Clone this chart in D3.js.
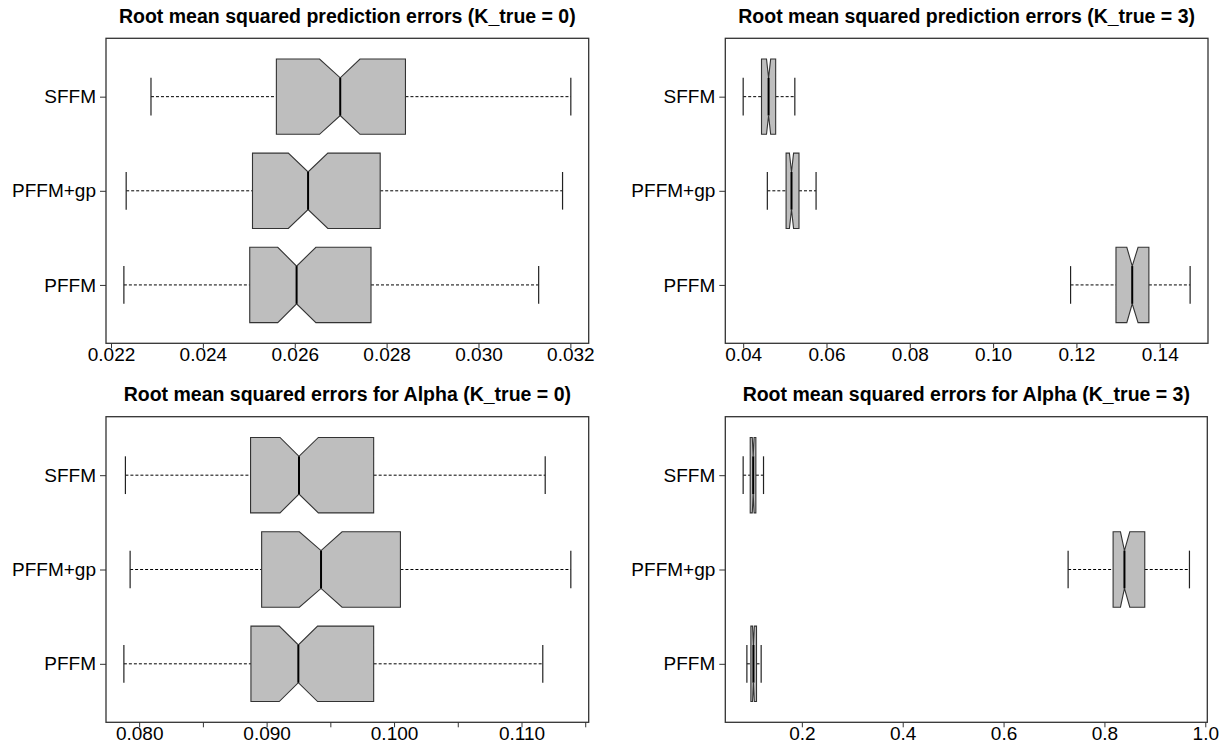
<!DOCTYPE html>
<html>
<head>
<meta charset="utf-8">
<script src="https://cdn.jsdelivr.net/npm/d3@7"></script>
<style>
  body { margin: 0; background: #fff; }
  svg { display: block; font-family: "Liberation Sans", Arial, sans-serif; }
</style>
</head>
<body>
<svg id="chart" width="1229" height="744"></svg>
<script>
// methods, top row first
const methods = ["SFFM", "PFFM+gp", "PFFM"];

// each row: [whiskerLow, q1, notchLow, median, notchHigh, q3, whiskerHigh]
const predK0 = [
  [0.02287, 0.02560, 0.02654, 0.02699, 0.02742, 0.02841, 0.03201],
  [0.02233, 0.02508, 0.02586, 0.02629, 0.02672, 0.02786, 0.03183],
  [0.02228, 0.02502, 0.02563, 0.02604, 0.02646, 0.02766, 0.03131]
];
const predK3 = [
  [0.0400, 0.0444, 0.0456, 0.0461, 0.0466, 0.0478, 0.0524],
  [0.0458, 0.0503, 0.0511, 0.0516, 0.0521, 0.0534, 0.0575],
  [0.1186, 0.1295, 0.1321, 0.1334, 0.1348, 0.1374, 0.1473]
];
const alphaK0 = [
  [0.07892, 0.08874, 0.09105, 0.09254, 0.09406, 0.09840, 0.11186],
  [0.07929, 0.08961, 0.09257, 0.09427, 0.09592, 0.10050, 0.11387],
  [0.07880, 0.08877, 0.09099, 0.09249, 0.09400, 0.09840, 0.11167]
];
const alphaK3 = [
  [0.0836, 0.0976, 0.1017, 0.1035, 0.1053, 0.1088, 0.1240],
  [0.7280, 0.8172, 0.8318, 0.8397, 0.8503, 0.8800, 0.9686],
  [0.0910, 0.0989, 0.1022, 0.1040, 0.1058, 0.1101, 0.1193]
];

const predK0Ticks = [0.022, 0.024, 0.026, 0.028, 0.030, 0.032];
const predK0Labels = ["0.022", "0.024", "0.026", "0.028", "0.030", "0.032"];
const predK3Ticks = [0.04, 0.06, 0.08, 0.10, 0.12, 0.14];
const predK3Labels = ["0.04", "0.06", "0.08", "0.10", "0.12", "0.14"];
const alphaK0Ticks = [0.080, 0.085, 0.090, 0.095, 0.100, 0.105, 0.110, 0.115];
const alphaK0Labels = ["0.080", "", "0.090", "", "0.100", "", "0.110", ""];
const alphaK3Ticks = [0.2, 0.4, 0.6, 0.8, 1.0];
const alphaK3Labels = ["0.2", "0.4", "0.6", "0.8", "1.0"];

const titles = [
  "Root mean squared prediction errors (K_true = 0)",
  "Root mean squared prediction errors (K_true = 3)",
  "Root mean squared errors for Alpha (K_true = 0)",
  "Root mean squared errors for Alpha (K_true = 3)"
];

const svg = d3.select("#chart");

const panels = [
  { stats: predK0, ticks: predK0Ticks, labels: predK0Labels, title: titles[0], x0: 106, x1: 588.7, y0: 38.3, y1: 343.3 },
  { stats: predK3, ticks: predK3Ticks, labels: predK3Labels, title: titles[1], x0: 725.3, x1: 1208, y0: 38.3, y1: 343.3 },
  { stats: alphaK0, ticks: alphaK0Ticks, labels: alphaK0Labels, title: titles[2], x0: 106, x1: 588.7, y0: 416.7, y1: 722.3 },
  { stats: alphaK3, ticks: alphaK3Ticks, labels: alphaK3Labels, title: titles[3], x0: 725.3, x1: 1207.3, y0: 416.7, y1: 722.3 }
];

panels.forEach(p => drawPanel(p));

function drawPanel(p) {
  const g = svg.append("g");

  // R style range: data range plus 4% each side
  const lo = d3.min(p.stats, d => d[0]);
  const hi = d3.max(p.stats, d => d[6]);
  const pad = (hi - lo) * 0.04;
  const x = d3.scaleLinear().domain([lo - pad, hi + pad]).range([p.x0, p.x1]);

  // rows at 1..n, limits 0.5..n+0.5 extended by 4%
  const n = methods.length;
  const ypad = n * 0.04;
  const y = d3.scaleLinear().domain([0.5 - ypad, n + 0.5 + ypad]).range([p.y1, p.y0]);
  const pos = i => n - i;

  const boxH = 0.4, capH = 0.2;

  const rows = g.selectAll("g.row")
    .data(p.stats)
    .enter()
    .append("g")
    .attr("class", "row");

  // whiskers
  rows.append("line")
    .attr("x1", d => x(d[0])).attr("x2", d => x(d[1]))
    .attr("y1", (d, i) => y(pos(i))).attr("y2", (d, i) => y(pos(i)))
    .attr("stroke", "#000").attr("stroke-width", 1).attr("stroke-dasharray", "3,2");
  rows.append("line")
    .attr("x1", d => x(d[5])).attr("x2", d => x(d[6]))
    .attr("y1", (d, i) => y(pos(i))).attr("y2", (d, i) => y(pos(i)))
    .attr("stroke", "#000").attr("stroke-width", 1).attr("stroke-dasharray", "3,2");

  // caps
  [0, 6].forEach(k => {
    rows.append("line")
      .attr("x1", d => x(d[k])).attr("x2", d => x(d[k]))
      .attr("y1", (d, i) => y(pos(i) + capH)).attr("y2", (d, i) => y(pos(i) - capH))
      .attr("stroke", "#222").attr("stroke-width", 1.2);
  });

  // notched box
  rows.append("path")
    .attr("d", (d, i) => {
      const c = pos(i);
      const pts = [
        [d[1], c + boxH], [d[2], c + boxH], [d[3], c + boxH / 2], [d[4], c + boxH], [d[5], c + boxH],
        [d[5], c - boxH], [d[4], c - boxH], [d[3], c - boxH / 2], [d[2], c - boxH], [d[1], c - boxH]
      ];
      return "M" + pts.map(q => x(q[0]) + "," + y(q[1])).join("L") + "Z";
    })
    .attr("fill", "#bebebe")
    .attr("stroke", "#333")
    .attr("stroke-width", 1.1);

  // median
  rows.append("line")
    .attr("x1", d => x(d[3])).attr("x2", d => x(d[3]))
    .attr("y1", (d, i) => y(pos(i) + boxH / 2)).attr("y2", (d, i) => y(pos(i) - boxH / 2))
    .attr("stroke", "#000").attr("stroke-width", 2);

  // frame
  g.append("rect")
    .attr("x", p.x0).attr("y", p.y0)
    .attr("width", p.x1 - p.x0).attr("height", p.y1 - p.y0)
    .attr("fill", "none").attr("stroke", "#333").attr("stroke-width", 1.3);

  // x axis
  const xAxis = g.append("g")
    .attr("transform", "translate(0," + p.y1 + ")")
    .call(d3.axisBottom(x).tickValues(p.ticks).tickSize(5).tickPadding(-1)
      .tickFormat((d, i) => p.labels[i]));
  xAxis.select(".domain").remove();
  xAxis.selectAll(".tick line").attr("stroke", "#333");
  xAxis.selectAll("text").attr("font-size", 19).attr("fill", "#000")
    .attr("font-family", "Liberation Sans, Arial, sans-serif");

  // y axis
  const yAxis = g.append("g")
    .attr("transform", "translate(" + p.x0 + ",0)")
    .call(d3.axisLeft(y).tickValues(methods.map((m, i) => pos(i))).tickSize(6).tickPadding(4)
      .tickFormat(v => methods[n - v]));
  yAxis.select(".domain").remove();
  yAxis.selectAll(".tick line").attr("stroke", "#333");
  yAxis.selectAll("text").attr("font-size", 19).attr("fill", "#000")
    .attr("font-family", "Liberation Sans, Arial, sans-serif");

  // title
  g.append("text")
    .attr("x", (p.x0 + p.x1) / 2)
    .attr("y", p.y0 - 15.6)
    .attr("text-anchor", "middle")
    .attr("font-size", 19.5)
    .attr("font-weight", "bold")
    .text(p.title);
}
</script>
</body>
</html>
